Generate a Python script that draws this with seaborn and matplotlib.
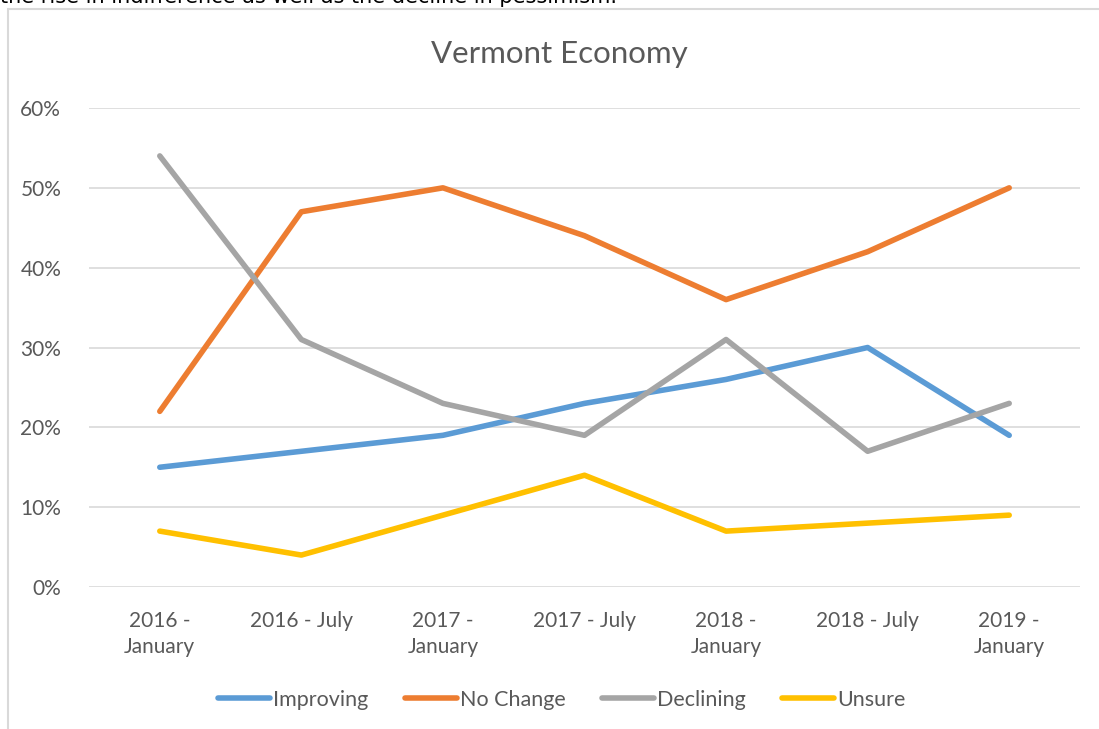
import numpy as np
import pandas as pd
import seaborn as sns
import matplotlib.pyplot as plt
from matplotlib.patches import Rectangle
from matplotlib.ticker import PercentFormatter

#%% data
periods = ["2016 -\nJanuary", "2016 - July", "2017 -\nJanuary", "2017 - July",
           "2018 -\nJanuary", "2018 - July", "2019 -\nJanuary"]
improving = [0.15, 0.17, 0.19, 0.23, 0.26, 0.30, 0.19]
no_change = [0.22, 0.47, 0.50, 0.44, 0.36, 0.42, 0.50]
declining = [0.54, 0.31, 0.23, 0.19, 0.31, 0.17, 0.23]
unsure = [0.07, 0.04, 0.09, 0.14, 0.07, 0.08, 0.09]

series_names = ["Improving", "No Change", "Declining", "Unsure"]
excel_colors = ["#5B9BD5", "#ED7D31", "#A5A5A5", "#FFC000"]

df = pd.DataFrame({"period": periods,
                   "Improving": improving,
                   "No Change": no_change,
                   "Declining": declining,
                   "Unsure": unsure})
long = df.melt(id_vars="period", var_name="series", value_name="share")
long["pos"] = long["period"].map({p: i for i, p in enumerate(periods)})

#%% style
sns.set_theme(style="white", rc={"axes.spines.left": False,
                                 "axes.spines.right": False,
                                 "axes.spines.top": False,
                                 "axes.spines.bottom": False})
plt.rcParams["font.family"] = ["Lato", "DejaVu Sans"]
txt_gray = "#595959"
grid_gray = "#D9D9D9"
lw = 4.0

fig = plt.figure(figsize=(10.99, 7.29), dpi=100)
ax = fig.add_axes([89 / 1099, 1 - 587 / 729, (1080 - 89) / 1099, (587 - 108) / 729])

sns.lineplot(data=long, x="pos", y="share", hue="series", hue_order=series_names,
             palette=excel_colors, linewidth=lw, ax=ax, legend=False)
for ln in ax.get_lines():
    ln.set_solid_capstyle("round")
    ln.set_solid_joinstyle("round")

ax.set_xlim(-0.5, len(periods) - 0.5)
ax.set_ylim(0, 0.6)
ax.set_yticks(np.arange(0, 0.61, 0.1))
ax.yaxis.set_major_formatter(PercentFormatter(1.0, decimals=0))
ax.set_xticks(range(len(periods)))
ax.set_xticklabels(periods, linespacing=1.4)
ax.tick_params(axis="both", length=0, labelsize=15, labelcolor=txt_gray)
ax.tick_params(axis="y", pad=20)
ax.tick_params(axis="x", pad=17)
ax.yaxis.grid(True, color=grid_gray, linewidth=1.2)
ax.set_axisbelow(True)
ax.set_xlabel("")
ax.set_ylabel("")

fig.text(559 / 1099, 1 - 54 / 729, "Vermont Economy", ha="center", va="center",
         fontsize=22.5, color=txt_gray)

# legend
handles = [plt.Line2D([], [], color=c, linewidth=lw, solid_capstyle="round")
           for c in excel_colors]
fig.legend(handles, series_names, loc="center", bbox_to_anchor=(562 / 1099, 1 - 700 / 729),
           ncol=4, frameon=False, fontsize=15.5, labelcolor=txt_gray,
           handlelength=2.4, handletextpad=0.15, columnspacing=1.7)

# chart frame, running off the bottom/right like the screenshot
fig.patches.append(Rectangle((8 / 1099, -0.05), 1.2, 1 - 9 / 729 + 0.05,
                             transform=fig.transFigure, fill=False,
                             edgecolor=grid_gray, linewidth=1.5))

# sliver of the document text above the chart
fig.text(0.0, 1 - 3 / 729, "the rise in indifference as well as the decline in pessimism.",
         ha="left", va="baseline", fontsize=15, color="black", family="DejaVu Sans")

fig.savefig("out.png", dpi=100, facecolor="white")
